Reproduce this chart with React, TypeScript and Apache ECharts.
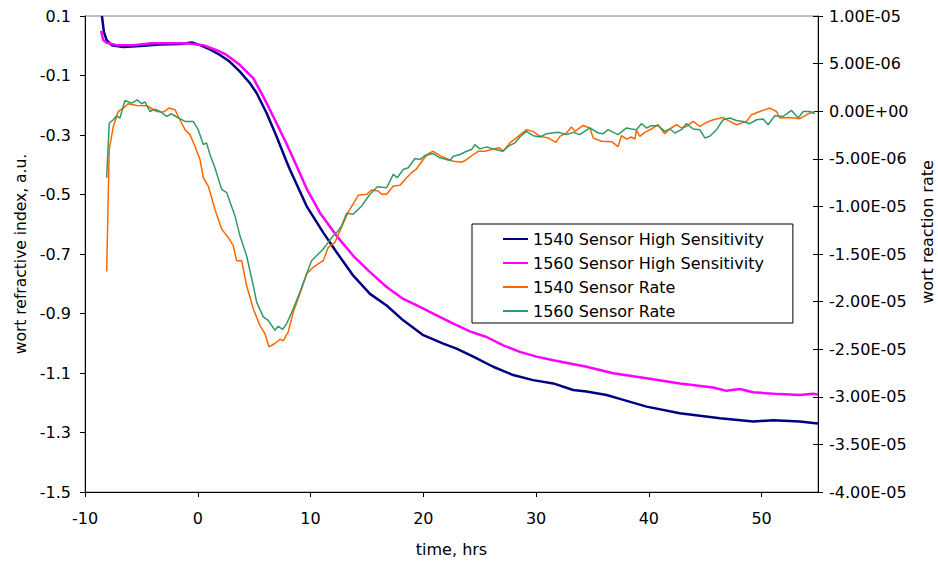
import React, { useEffect, useRef } from "react";
import * as echarts from "echarts";

const FONT = "DejaVu Sans";

const X_TICKS = [-10, 0, 10, 20, 30, 40, 50];
const LEFT_TICKS = [-1.5, -1.3, -1.1, -0.9, -0.7, -0.5, -0.3, -0.1, 0.1];
const RIGHT_TICKS = [-4e-5, -3.5e-5, -3e-5, -2.5e-5, -2e-5, -1.5e-5, -1e-5, -5e-6, 0, 5e-6, 1e-5];

const SERIES_NAMES = [
  "1540 Sensor High Sensitivity",
  "1560 Sensor High Sensitivity",
  "1540 Sensor Rate",
  "1560 Sensor Rate",
];

// 1540 Sensor High Sensitivity (left axis, a.u.)
const t1540HS = [-8.5, -8.32, -8.08, -7.63, -6.6, -5.1, -3.35, -1.58, -0.54, 0.2, 1.08, 1.97, 2.85, 3.74, 4.63, 5.22, 6.1, 6.99, 7.88, 8.17, 9.06, 9.65, 11.13, 12.31, 13.79, 15.27, 16.75, 18.22, 20.0, 21.77, 22.95, 24.43, 26.2, 27.97, 29.74, 31.52, 33.29, 34.47, 36.25, 37.43, 39.8, 42.75, 46.3, 49.25, 51.02, 53.39, 54.57, 55];
const v1540HS = [0.1, 0.046, 0.019, 0.002, -0.004, -0.001, 0.004, 0.006, 0.011, 0.002, -0.012, -0.031, -0.054, -0.087, -0.126, -0.159, -0.226, -0.305, -0.39, -0.416, -0.49, -0.539, -0.628, -0.694, -0.773, -0.834, -0.873, -0.923, -0.973, -1.001, -1.018, -1.045, -1.079, -1.107, -1.124, -1.135, -1.157, -1.162, -1.174, -1.187, -1.213, -1.235, -1.252, -1.263, -1.259, -1.263, -1.268, -1.27];

// 1560 Sensor High Sensitivity (left axis, a.u.)
const t1560HS = [-8.58, -8.38, -8.08, -7.19, -5.72, -4.24, -2.76, -0.98, 0.49, 1.67, 2.56, 3.74, 4.92, 5.81, 6.69, 7.88, 8.6, 9.65, 10.83, 12.31, 13.79, 15.27, 16.75, 18.22, 19.7, 21.18, 22.66, 24.13, 25.61, 27.09, 28.56, 30.04, 31.52, 33.0, 34.47, 36.84, 39.8, 42.75, 45.7, 46.88, 48.06, 49.25, 51.61, 53.39, 54.57, 55];
const v1560HS = [0.05, 0.019, 0.01, 0.002, 0.002, 0.008, 0.008, 0.008, 0.002, -0.015, -0.031, -0.065, -0.109, -0.171, -0.238, -0.33, -0.39, -0.48, -0.561, -0.639, -0.706, -0.761, -0.811, -0.851, -0.878, -0.906, -0.934, -0.96, -0.979, -1.007, -1.029, -1.045, -1.057, -1.068, -1.079, -1.101, -1.118, -1.135, -1.149, -1.16, -1.154, -1.165, -1.171, -1.174, -1.17, -1.172];

// 1540 Sensor Rate (right axis, values in units of 1e-6)
const t1540Rate = [-8.08, -7.85, -7.49, -7.05, -6.6, -6.16, -5.42, -4.53, -3.65, -3.06, -2.55, -2.02, -1.58, -1.13, -0.69, -0.25, 0.2, 0.49, 0.93, 1.52, 2.12, 2.7, 3.15, 3.44, 3.89, 4.33, 4.92, 5.5, 5.95, 6.31, 6.84, 7.29, 7.58, 8.02, 8.47, 9.06, 9.65, 10.24, 11.13, 11.57, 12.16, 12.6, 13.34, 14.23, 14.97, 15.41, 16.0, 16.3, 16.75, 17.34, 17.93, 18.52, 18.96, 19.4, 19.99, 20.44, 20.88, 21.47, 22.06, 22.66, 23.4, 23.84, 24.43, 24.87, 25.46, 26.05, 26.73, 27.09, 27.68, 28.42, 29.15, 29.74, 30.34, 31.07, 31.76, 32.11, 32.7, 33.14, 33.44, 34.18, 34.77, 35.06, 35.8, 36.69, 37.28, 37.57, 38.02, 38.46, 38.76, 38.9, 39.2, 39.64, 40.23, 40.82, 41.12, 41.42, 41.86, 42.45, 42.89, 43.33, 43.93, 44.52, 45.11, 45.7, 46.59, 47.18, 47.77, 48.66, 49.1, 49.84, 50.73, 51.32, 51.61, 52.5, 53.39, 54.13, 54.72];
const v1540Rate = [-16.84, -4.03, -1.6, -0.03, 0.33, 0.78, 0.6, 0.57, -0.03, -0.09, 0.33, 0.15, -0.9, -1.94, -2.46, -3.69, -5.08, -6.99, -7.86, -10.3, -12.39, -13.26, -14.13, -15.7, -15.7, -18.31, -20.75, -22.49, -23.36, -24.75, -24.4, -23.95, -24.12, -23.18, -21.09, -19.18, -17.09, -16.39, -15.7, -14.3, -13.78, -12.6, -10.6, -8.84, -8.73, -8.28, -8.39, -8.73, -8.73, -7.86, -7.79, -6.99, -6.46, -6.05, -5.08, -4.45, -4.21, -4.66, -4.97, -5.25, -5.36, -5.08, -4.55, -4.21, -4.21, -4.03, -3.85, -4.21, -3.33, -2.64, -1.94, -2.12, -2.64, -2.81, -3.27, -2.64, -2.29, -1.66, -2.12, -1.5, -1.76, -2.8, -3.16, -3.2, -3.72, -2.57, -2.92, -2.71, -2.92, -2.01, -2.64, -2.22, -1.87, -1.42, -1.94, -2.36, -1.87, -1.42, -1.76, -1.6, -1.07, -1.6, -1.18, -0.9, -0.66, -1.07, -1.42, -1.07, -0.37, -0.03, 0.33, -0.03, -0.72, -0.66, -0.79, -0.27, -0.03];

// 1560 Sensor Rate (right axis, values in units of 1e-6)
const t1560Rate = [-8.08, -7.85, -7.49, -7.2, -6.9, -6.46, -5.87, -5.37, -4.98, -4.68, -4.24, -3.8, -3.35, -2.76, -2.32, -1.87, -1.13, -0.69, -0.4, 0.04, 0.49, 0.78, 1.08, 1.52, 2.12, 2.56, 3.3, 3.74, 4.33, 4.92, 5.22, 5.81, 6.25, 6.84, 7.14, 7.52, 7.88, 8.47, 9.06, 9.65, 10.09, 10.53, 11.13, 11.57, 12.01, 12.46, 12.75, 13.2, 13.79, 14.53, 15.27, 15.92, 16.75, 17.34, 17.69, 18.22, 18.66, 19.26, 19.7, 20.14, 20.88, 21.47, 22.36, 22.66, 23.25, 23.84, 24.28, 24.57, 25.02, 25.61, 26.2, 27.02, 27.53, 28.12, 28.56, 29.15, 29.74, 30.34, 30.93, 31.96, 32.7, 33.29, 33.88, 34.77, 35.51, 35.95, 36.39, 36.84, 37.28, 38.02, 38.46, 38.9, 39.34, 39.79, 40.23, 40.82, 41.42, 41.86, 42.3, 42.89, 43.33, 43.93, 44.52, 44.96, 45.4, 46.0, 46.59, 47.18, 47.77, 48.36, 48.95, 49.55, 50.14, 50.58, 51.17, 51.91, 52.65, 53.24, 53.69, 54.28, 54.72];
const v1560Rate = [-6.99, -1.24, -0.9, -0.48, -0.72, 1.12, 0.85, 1.19, 0.78, 0.98, -0.03, 0.22, -0.03, -0.55, -0.27, -0.61, -1.07, -1.07, -1.07, -1.94, -3.51, -3.33, -4.55, -5.94, -8.21, -8.55, -11.0, -13.09, -15.18, -18.31, -20.05, -21.61, -21.97, -23.01, -22.59, -22.91, -22.31, -20.75, -19.0, -17.09, -15.7, -15.18, -14.48, -13.78, -13.09, -12.56, -12.04, -10.73, -10.82, -9.95, -8.73, -7.93, -8.03, -6.64, -6.99, -6.12, -5.94, -4.97, -5.08, -4.66, -4.45, -4.9, -5.18, -4.73, -4.55, -4.21, -4.03, -3.51, -3.96, -3.75, -3.96, -4.21, -3.69, -3.33, -2.71, -2.12, -2.57, -2.71, -2.36, -2.22, -2.46, -2.22, -2.46, -1.76, -2.29, -2.36, -1.94, -2.22, -2.46, -1.76, -1.87, -1.94, -1.31, -1.76, -1.52, -1.52, -2.12, -1.87, -2.29, -1.94, -1.31, -1.87, -1.94, -2.81, -2.64, -1.94, -0.9, -0.72, -0.97, -1.07, -1.31, -0.9, -0.83, -1.42, -0.48, -0.55, 0.08, -0.72, -0.03, -0.03, -0.27];

const RATE_UNIT = 1e-6;

const COLORS = ["#000080", "#FF00FF", "#FF6600", "#339966"];

function pairs(ts: number[], vs: number[], scale = 1): number[][] {
  return ts.map((t, i) => [t, vs[i] * scale]);
}

function sci(v: number): string {
  const s = v.toExponential(2);
  const [m, e] = s.split("e");
  const sign = e[0] === "-" ? "-" : "+";
  const digits = e.replace(/[+-]/, "").padStart(2, "0");
  return `${m}E${sign}${digits}`;
}

export default function App() {
  const ref = useRef<HTMLDivElement>(null);
  useEffect(() => {
    if (!ref.current) return;
    const chart = echarts.init(ref.current, null, { renderer: "svg" });
    const axisText = { fontFamily: FONT, fontSize: 16, color: "#000" };
    const option: any = {
      animation: false,
      textStyle: { fontFamily: FONT },
      grid: {
        left: 85,
        right: 120,
        top: 16,
        bottom: 68,
        show: true,
        borderColor: "#808080",
        borderWidth: 1,
      },
      legend: {
        orient: "vertical",
        left: 472,
        top: 224,
        backgroundColor: "#fff",
        borderColor: "#000",
        borderWidth: 1,
        borderRadius: 0,
        padding: [7, 29, 4, 31],
        itemWidth: 25,
        itemHeight: 2,
        itemGap: 8,
        icon: "rect",
        textStyle: { fontFamily: FONT, fontSize: 16, color: "#000" },
        data: SERIES_NAMES,
      },
      xAxis: {
        type: "value",
        min: -10,
        max: 55,
        name: "time, hrs",
        nameLocation: "middle",
        nameGap: 49,
        nameTextStyle: { fontFamily: FONT, fontSize: 16, color: "#000" },
        axisLine: { show: true, onZero: false, lineStyle: { color: "#000", width: 1 } },
        axisTick: { show: true, length: 5, customValues: X_TICKS, lineStyle: { color: "#000" } },
        axisLabel: { ...axisText, margin: 18, customValues: X_TICKS, formatter: (v: number) => String(v) },
        splitLine: { show: false },
      },
      yAxis: [
        {
          type: "value",
          position: "left",
          min: -1.5,
          max: 0.1,
          name: "wort refractive index, a.u.",
          nameLocation: "middle",
          nameRotate: 90,
          nameGap: 56,
          nameTextStyle: { fontFamily: FONT, fontSize: 15.5, color: "#000" },
          axisLine: { show: true, onZero: false, lineStyle: { color: "#000", width: 1 } },
          axisTick: { show: true, length: 5, customValues: LEFT_TICKS, lineStyle: { color: "#000" } },
          axisLabel: {
            ...axisText,
            margin: 14,
            customValues: LEFT_TICKS,
            formatter: (v: number) => v.toFixed(1),
          },
          splitLine: { show: false },
        },
        {
          type: "value",
          position: "right",
          min: -4e-5,
          max: 1e-5,
          axisLine: { show: true, onZero: false, lineStyle: { color: "#000", width: 1 } },
          axisTick: { show: true, length: 5, customValues: RIGHT_TICKS, lineStyle: { color: "#000" } },
          axisLabel: {
            ...axisText,
            margin: 11,
            customValues: RIGHT_TICKS,
            formatter: (v: number) => sci(v),
          },
          splitLine: { show: false },
        },
        {
          type: "value",
          position: "right",
          min: -4e-5,
          max: 1e-5,
          axisLine: { show: false, onZero: false },
          axisTick: { show: true, inside: true, length: 5, customValues: RIGHT_TICKS, lineStyle: { color: "#000" } },
          axisLabel: { show: false },
          splitLine: { show: false },
        },
      ],
      graphic: [
        {
          type: "text",
          x: 927,
          y: 232,
          rotation: Math.PI / 2,
          style: {
            text: "wort reaction rate",
            fontFamily: FONT,
            fontSize: 16,
            fill: "#000",
            align: "center",
            verticalAlign: "middle",
          },
        },
      ],
      series: [
        {
          name: SERIES_NAMES[0],
          type: "line",
          yAxisIndex: 0,
          symbol: "none",
          data: pairs(t1540HS, v1540HS),
          lineStyle: { color: COLORS[0], width: 2.5 },
          itemStyle: { color: COLORS[0] },
        },
        {
          name: SERIES_NAMES[1],
          type: "line",
          yAxisIndex: 0,
          symbol: "none",
          data: pairs(t1560HS, v1560HS),
          lineStyle: { color: COLORS[1], width: 2.5 },
          itemStyle: { color: COLORS[1] },
        },
        {
          name: SERIES_NAMES[2],
          type: "line",
          yAxisIndex: 1,
          symbol: "none",
          data: pairs(t1540Rate, v1540Rate, RATE_UNIT),
          lineStyle: { color: COLORS[2], width: 1.5 },
          itemStyle: { color: COLORS[2] },
        },
        {
          name: SERIES_NAMES[3],
          type: "line",
          yAxisIndex: 1,
          symbol: "none",
          data: pairs(t1560Rate, v1560Rate, RATE_UNIT),
          lineStyle: { color: COLORS[3], width: 1.5 },
          itemStyle: { color: COLORS[3] },
        },
      ],
    };
    chart.setOption(option);
    return () => chart.dispose();
  }, []);
  return <div ref={ref} style={{ width: 938, height: 562, position: "absolute", left: 0, top: 0 }} />;
}
